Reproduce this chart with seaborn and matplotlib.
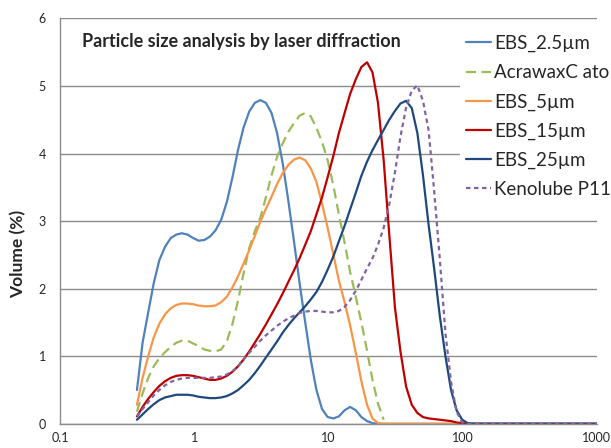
import numpy as np
import pandas as pd
import seaborn as sns
from matplotlib import pyplot as plt
from matplotlib.ticker import FixedLocator, NullLocator

# particle size (um) and volume (%)
size = [0.375, 0.413, 0.455, 0.50, 0.55, 0.607, 0.67, 0.737, 0.81, 0.893,
        0.98, 1.08, 1.19, 1.31, 1.44, 1.59, 1.75, 1.93, 2.12, 2.33,
        2.57, 2.83, 3.11, 3.42, 3.77, 4.15, 4.57, 5.03, 5.54, 6.10,
        6.72, 7.39, 8.14, 8.96, 9.87, 10.9, 11.96, 13.2, 14.5, 16.0,
        17.6, 19.4, 21.3, 23.4, 25.8, 28.4, 31.3, 34.4, 37.9, 41.8,
        46.0, 50.6, 55.7, 61.3, 67.5, 74.4, 81.9, 90.1, 99.2, 109,
        120, 200, 500, 1000]

ebs_2_5 = [0.5, 1.2, 1.65, 2.08, 2.42, 2.62, 2.75, 2.8, 2.82, 2.8,
           2.75, 2.71, 2.72, 2.77, 2.86, 3.02, 3.28, 3.65, 4.05, 4.38,
           4.62, 4.75, 4.79, 4.75, 4.6, 4.3, 3.85, 3.3, 2.7, 2.08,
           1.5, 0.95, 0.5, 0.22, 0.1, 0.08, 0.11, 0.2, 0.25, 0.2,
           0.1, 0.04, 0.01, 0, 0, 0, 0, 0, 0, 0,
           0, 0, 0, 0, 0, 0, 0, 0, 0, 0,
           0, 0, 0, 0]
acrawax = [0.18, 0.45, 0.68, 0.85, 0.97, 1.06, 1.14, 1.2, 1.23, 1.23,
           1.19, 1.15, 1.10, 1.08, 1.07, 1.1, 1.22, 1.48, 1.82, 2.22,
           2.6, 2.85, 3.05, 3.35, 3.68, 3.95, 4.15, 4.32, 4.45, 4.56,
           4.6, 4.55, 4.38, 4.17, 3.9, 3.52, 3.1, 2.68, 2.25, 1.88,
           1.5, 1.08, 0.65, 0.3, 0.06, np.nan, np.nan, np.nan, np.nan, np.nan,
           np.nan, np.nan, np.nan, np.nan, np.nan, np.nan, np.nan, np.nan, np.nan, np.nan,
           np.nan, np.nan, np.nan, np.nan]
ebs_5 = [0.28, 0.68, 1.0, 1.28, 1.48, 1.62, 1.71, 1.76, 1.78, 1.78,
         1.77, 1.75, 1.74, 1.74, 1.75, 1.8, 1.88, 2.02, 2.18, 2.37,
         2.57, 2.78, 2.99, 3.18, 3.36, 3.55, 3.71, 3.83, 3.91, 3.94,
         3.9, 3.78, 3.58, 3.26, 2.9, 2.5, 2.12, 1.8, 1.46, 1.05,
         0.63, 0.28, 0.08, 0.01, 0, 0, 0, 0, 0, 0,
         0, 0, 0, 0, 0, 0, 0, 0, 0, 0,
         0, 0, 0, 0]
ebs_15 = [0.11, 0.25, 0.37, 0.47, 0.56, 0.63, 0.68, 0.71, 0.72, 0.72,
          0.71, 0.69, 0.67, 0.65, 0.65, 0.67, 0.71, 0.77, 0.85, 0.95,
          1.07, 1.2, 1.33, 1.47, 1.62, 1.77, 1.93, 2.1, 2.27, 2.45,
          2.65, 2.85, 3.1, 3.35, 3.65, 3.97, 4.3, 4.6, 4.88, 5.1,
          5.28, 5.35, 5.2, 4.75, 3.9, 2.8, 1.72, 1.07, 0.55, 0.28,
          0.16, 0.1, 0.08, 0.07, 0.06, 0.05, 0.04, 0.02, 0.01, 0,
          0, 0, 0, 0]
ebs_25 = [0.06, 0.14, 0.22, 0.29, 0.35, 0.39, 0.41, 0.43, 0.43, 0.43,
          0.42, 0.40, 0.39, 0.38, 0.38, 0.39, 0.41, 0.45, 0.5, 0.57,
          0.65, 0.75, 0.86, 0.98, 1.1, 1.22, 1.35, 1.46, 1.56, 1.65,
          1.74, 1.84, 1.95, 2.1, 2.28, 2.48, 2.7, 2.93, 3.17, 3.42,
          3.67, 3.88, 4.05, 4.2, 4.35, 4.5, 4.63, 4.74, 4.78, 4.67,
          4.3, 3.68, 2.95, 2.3, 1.6, 1.0, 0.5, 0.2, 0.06, 0.01,
          0, 0, 0, 0]
kenolube = [0.11, 0.22, 0.32, 0.42, 0.5, 0.57, 0.62, 0.65, 0.67, 0.68,
            0.68, 0.68, 0.68, 0.68, 0.69, 0.7, 0.73, 0.78, 0.85, 0.95,
            1.05, 1.14, 1.23, 1.31, 1.38, 1.45, 1.51, 1.56, 1.6, 1.64,
            1.66, 1.67, 1.67, 1.66, 1.65, 1.65, 1.67, 1.73, 1.83, 1.97,
            2.13, 2.3, 2.45, 2.65, 2.9, 3.25, 3.72, 4.25, 4.68, 4.93,
            5.01, 4.78, 4.35, 3.45, 2.45, 1.34, 0.62, 0.18, 0.02, 0,
            0, 0, 0, 0]

names = ['EBS_2.5µm', 'AcrawaxC ato', 'EBS_5µm', 'EBS_15µm', 'EBS_25µm', 'Kenolube P11']
colors = ['#4F81BD', '#9BBB59', '#F79646', '#C00000', '#1F497D', '#8064A2']

df = pd.DataFrame({'size': size, names[0]: ebs_2_5, names[1]: acrawax, names[2]: ebs_5,
                   names[3]: ebs_15, names[4]: ebs_25, names[5]: kenolube})
df = df.melt(id_vars='size', var_name='sample', value_name='volume')

sns.set_style('white')
plt.rcParams['font.family'] = ['Lato', 'DejaVu Sans']

fig = plt.figure(figsize=(6.11, 4.48), dpi=100)
ax = fig.add_axes([0.098, 0.054, 0.879, 0.905])

dashes = {names[0]: '', names[1]: (4.5, 2.5), names[2]: '', names[3]: '',
          names[4]: '', names[5]: (2, 1.6)}
sns.lineplot(data=df, x='size', y='volume', hue='sample', style='sample',
             palette=dict(zip(names, colors)), dashes=dashes, estimator=None,
             sort=False, lw=1.6, ax=ax)

ax.set_xscale('log')
ax.set_xlim(0.1, 1000)
ax.set_ylim(0, 6)
ax.xaxis.set_major_locator(FixedLocator([0.1, 1, 10, 100, 1000]))
ax.xaxis.set_minor_locator(NullLocator())
ax.set_xticklabels(['0.1', '1', '10', '100', '1000'])
ax.set_yticks(range(7))
ax.tick_params(length=0, labelsize=9)
ax.tick_params(axis='x', pad=6)
ax.tick_params(axis='y', pad=10)
ax.yaxis.grid(True, color='#8c8c8c', lw=1)
ax.set_axisbelow(True)
for s in ['top', 'right']:
    ax.spines[s].set_visible(False)
for s in ['left', 'bottom']:
    ax.spines[s].set_color('#8c8c8c')
    ax.spines[s].set_linewidth(1)

ax.set_xlabel('')
ax.set_ylabel('Volume (%)', fontsize=12.5, fontweight='bold')
ax.yaxis.set_label_coords(-0.062, 0.42)
ax.text(0.042, 0.944, 'Particle size analysis by laser diffraction',
        transform=ax.transAxes, fontsize=13, fontweight='bold', va='center')

leg = ax.legend(loc='upper left', bbox_to_anchor=(0.728, 0.996), frameon=True,
                facecolor='white', edgecolor='none', framealpha=1, fontsize=13.5,
                handlelength=1.33, handletextpad=0.16, labelspacing=0.64,
                borderpad=0.3)

fig.savefig('out.png', dpi=100)
